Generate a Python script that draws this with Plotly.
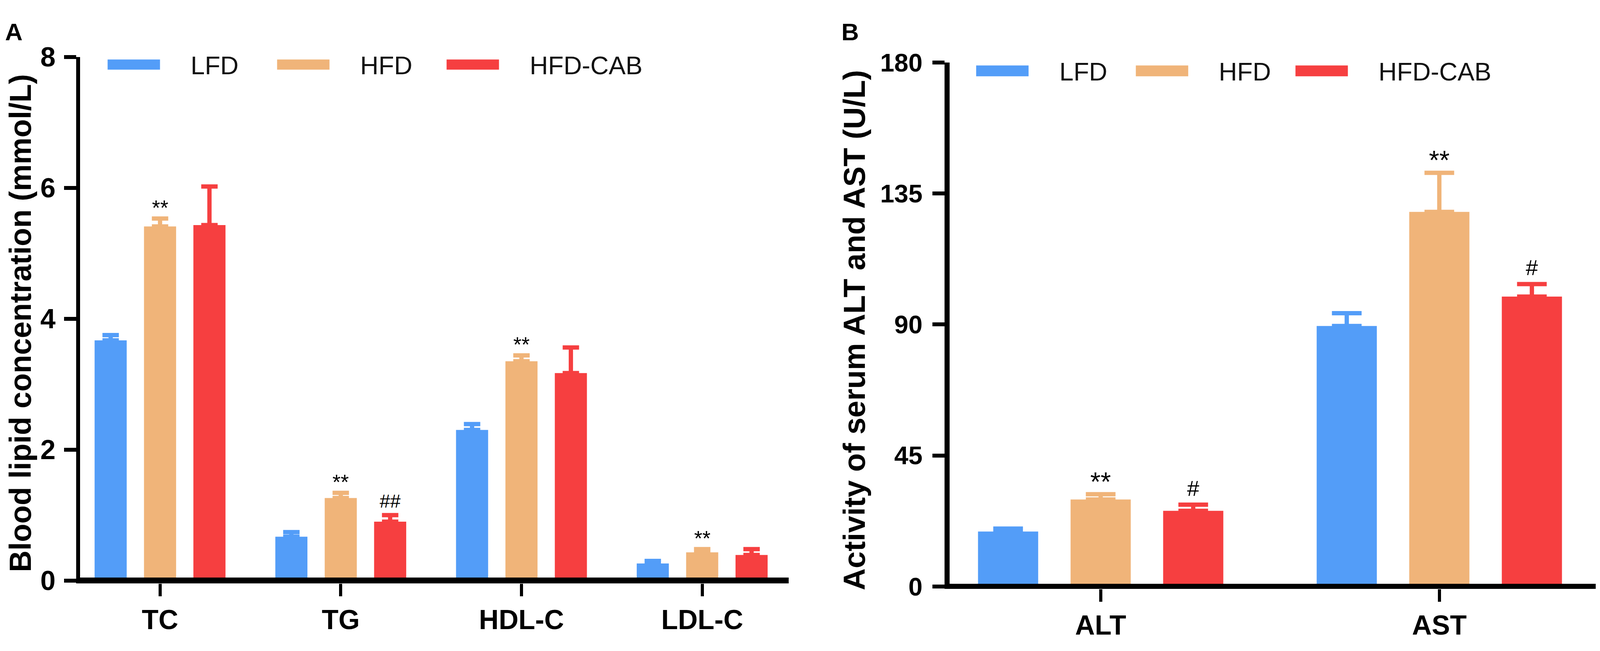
import plotly.graph_objects as go

# groups shared by both panels
groups = ["LFD", "HFD", "HFD-CAB"]
colors = ["#539DF8", "#F0B479", "#F63F40"]

# panel A: blood lipids (mmol/L), mean and upper error
lipid_labels = ["TC", "TG", "HDL-C", "LDL-C"]
lipid_lfd = [3.67, 0.67, 2.30, 0.26]
lipid_lfd_err = [0.08, 0.07, 0.09, 0.04]
lipid_hfd = [5.41, 1.26, 3.35, 0.43]
lipid_hfd_err = [0.12, 0.08, 0.09, 0.05]
lipid_cab = [5.43, 0.90, 3.17, 0.39]
lipid_cab_err = [0.59, 0.10, 0.39, 0.09]
lipid_hfd_sig = ["**", "**", "**", "**"]
lipid_cab_sig = ["", "##", "", ""]
lipid_ticks = [0, 2, 4, 6, 8]

# panel B: serum ALT / AST (U/L)
enzyme_labels = ["ALT", "AST"]
enzyme_lfd = [18.9, 89.5]
enzyme_lfd_err = [1.0, 4.4]
enzyme_hfd = [29.9, 128.7]
enzyme_hfd_err = [1.8, 13.4]
enzyme_cab = [26.0, 99.6]
enzyme_cab_err = [2.1, 4.3]
enzyme_hfd_sig = ["**", "**"]
enzyme_cab_sig = ["#", "#"]
enzyme_ticks = [0, 45, 90, 135, 180]

# the browser only shows 4096 px across, so lay the page out to fill that
VIEW_W, VIEW_H = 4096, 1666
REF_W = 4550
OFF = 8  # default body margin
FW, FH = VIEW_W - OFF, VIEW_H - OFF
SX = VIEW_W / REF_W
FONT = "Liberation Sans, Arial, sans-serif"
BARGAP = 0.18
SLOT = (1 - BARGAP) / 3


def X(rx):
    # reference pixel x -> paper fraction
    return (rx * SX - OFF) / FW


def Y(ry):
    # reference pixel y -> paper fraction
    return 1 - (ry - OFF) / FH


panels = [
    dict(xa="x", ya="y", labels=lipid_labels,
         means=[lipid_lfd, lipid_hfd, lipid_cab],
         errs=[lipid_lfd_err, lipid_hfd_err, lipid_cab_err],
         sigs=[None, lipid_hfd_sig, lipid_cab_sig],
         cap=21, sig_font={"**": 54, "##": 48},
         shift={"**": 28, "##": 36}),
    dict(xa="x2", ya="y2", labels=enzyme_labels,
         means=[enzyme_lfd, enzyme_hfd, enzyme_cab],
         errs=[enzyme_lfd_err, enzyme_hfd_err, enzyme_cab_err],
         sigs=[None, enzyme_hfd_sig, enzyme_cab_sig],
         cap=38, sig_font={"**": 68, "#": 56},
         shift={"**": 33, "#": 42}),
]

fig = go.Figure()
annotations = []
shapes = []

for p in panels:
    n = len(p["labels"])
    for j, g in enumerate(groups):
        fig.add_trace(go.Bar(
            x=list(range(n)), y=p["means"][j], name=g,
            xaxis=p["xa"], yaxis=p["ya"], showlegend=False,
            marker=dict(color=colors[j], line=dict(width=0)),
            error_y=dict(type="data", symmetric=False, array=p["errs"][j],
                         arrayminus=[0] * n, color=colors[j],
                         thickness=11, width=p["cap"]),
        ))
        if p["sigs"][j] is None:
            continue
        for i, s in enumerate(p["sigs"][j]):
            if not s:
                continue
            annotations.append(dict(
                x=i + (j - 1) * SLOT, y=p["means"][j][i] + p["errs"][j][i],
                xref=p["xa"], yref=p["ya"], text=s, showarrow=False,
                xanchor="center", yanchor="middle", yshift=p["shift"][s],
                font=dict(family=FONT, size=p["sig_font"][s], color="black"),
            ))

# hand-drawn legends (wide swatches like the original)
legends = [
    dict(x0=306, step=482, y0=118, y1=145),
    dict(x0=2776, step=454, y0=134, y1=163),
]
for lg in legends:
    for j, g in enumerate(groups):
        x0 = lg["x0"] + j * lg["step"]
        shapes.append(dict(type="rect", xref="paper", yref="paper",
                           x0=X(x0), x1=X(x0 + 149), y0=Y(lg["y1"]), y1=Y(lg["y0"]),
                           fillcolor=colors[j], line=dict(width=0)))
        annotations.append(dict(x=X(x0 + 234), y=Y((lg["y0"] + lg["y1"]) / 2 + 2),
                                xref="paper", yref="paper", xanchor="left", yanchor="middle",
                                text=g, showarrow=False,
                                font=dict(family=FONT, size=65, color="#111111")))

# axis titles and panel letters
annotations += [
    dict(x=X(58), y=Y(823), xref="paper", yref="paper", textangle=-90,
         xanchor="center", yanchor="middle",
         text="Blood lipid concentration (mmol/L)", showarrow=False,
         font=dict(family=FONT, size=77, color="black", weight="bold")),
    dict(x=X(2430), y=Y(842), xref="paper", yref="paper", textangle=-90,
         xanchor="center", yanchor="middle",
         text="Activity of serum ALT and AST (U/L)", showarrow=False,
         font=dict(family=FONT, size=78, color="black", weight="bold")),
    dict(x=X(12), y=Y(44), xref="paper", yref="paper", xanchor="left", yanchor="middle",
         text="A", showarrow=False,
         font=dict(family=FONT, size=62, color="black", weight="bold")),
    dict(x=X(2390), y=Y(44), xref="paper", yref="paper", xanchor="left", yanchor="middle",
         text="B", showarrow=False,
         font=dict(family=FONT, size=62, color="black", weight="bold")),
]

# axes: x-axis drawn as the y=0 line (centred on zero, like the original)
axes = [
    dict(name="1", x0=228, x1=2243, top=111, zero=1511, lw_x=15, lw_y=10,
         xr=[-0.442, 3.479], ymax=8, labels=lipid_labels, yticks=lipid_ticks,
         ytf=70, ystand=8),
    dict(name="2", x0=2700, x1=4538, top=126, zero=1527, lw_x=13, lw_y=13,
         xr=[-0.4465, 1.462], ymax=180, labels=enzyme_labels, yticks=enzyme_ticks,
         ytf=65, ystand=12),
]

layout_axes = {}
for a in axes:
    sfx = "" if a["name"] == "1" else a["name"]
    half = a["lw_x"] / 2
    ymin = -a["ymax"] * half / (a["zero"] - a["top"])
    layout_axes["xaxis" + sfx] = dict(
        domain=[X(a["x0"]), X(a["x1"])], range=a["xr"], anchor="y" + sfx,
        tickvals=list(range(len(a["labels"]))), ticktext=a["labels"],
        showline=False, showgrid=False, zeroline=False, fixedrange=True,
        ticks="outside", ticklen=32, tickwidth=8, tickcolor="black",
        tickfont=dict(family=FONT, size=70, weight="bold"))
    layout_axes["yaxis" + sfx] = dict(
        domain=[Y(a["zero"] + half), Y(a["top"])], range=[ymin, a["ymax"]],
        anchor="x" + sfx, tickvals=a["yticks"],
        showline=True, linewidth=a["lw_y"], linecolor="black",
        showgrid=False, zeroline=True, zerolinewidth=a["lw_x"], zerolinecolor="black",
        fixedrange=True, ticks="outside", ticklen=31, tickwidth=10, tickcolor="black",
        ticklabelstandoff=a["ystand"],
        tickfont=dict(family=FONT, size=a["ytf"], weight="bold"))

fig.update_layout(
    width=FW, height=FH,
    margin=dict(l=0, r=0, t=0, b=0),
    paper_bgcolor="white", plot_bgcolor="white",
    barmode="group", bargap=BARGAP, bargroupgap=0.35,
    font=dict(family=FONT, color="black"),
    annotations=annotations,
    shapes=shapes,
    **layout_axes,
)
try:
    fig.update_yaxes(zerolinelayer="above traces")
except ValueError:
    pass

fig.write_html("out.html")
